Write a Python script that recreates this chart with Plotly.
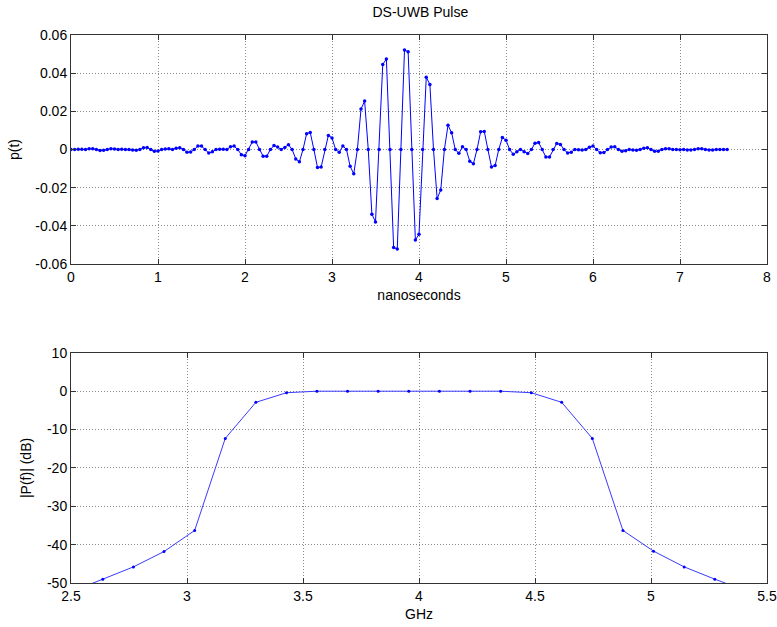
import numpy as np
import plotly.graph_objects as go
from plotly.subplots import make_subplots

# sample times of the pulse: 24 samples per nanosecond
t_ns = np.arange(182) / 24.0

# pulse amplitude p(t)
p_t = [
    0,
    0, 0.0001, 0.0001, 0, 0.0004, 0.0004, 0, -0.0005, -0.0004, 0,
    0.0004, 0.0003, 0, 0.0001, 0, 0, -0.0003, -0.0004, 0, 0.0009,
    0.0010, 0, -0.0009, -0.0008, 0, 0.0003, 0.0004, 0, 0.0007, 0.0009,
    0, -0.0014, -0.0013, 0, 0.0018, 0.0018, 0, -0.0018, -0.0012, 0,
    0.0002, 0.0001, 0, 0.0014, 0.0018, 0, -0.0027, -0.0032, 0, 0.0039,
    0.0039, 0, -0.0035, -0.0035, 0, 0.0021, 0.0013, 0, 0.0011, 0.0025,
    0, -0.0049, -0.0064, 0, 0.0083, 0.0089, 0, -0.0094, -0.0092, 0,
    0.0074, 0.0061, 0, -0.0014, 0.0019, 0, -0.0088, -0.0127, 0, 0.0212,
    0.0254, 0, -0.0339, -0.0379, 0, 0.0446, 0.0474, 0, -0.0513, -0.0521,
    0, 0.0521, 0.0512, 0, -0.0474, -0.0444, 0, 0.0379, 0.0341, 0,
    -0.0257, -0.0212, 0, 0.0127, 0.0088, 0, -0.0020, 0.0014, 0, -0.0061,
    -0.0075, 0, 0.0093, 0.0095, 0, -0.0091, -0.0084, 0, 0.0063, 0.0049,
    0, -0.0025, -0.0012, 0, -0.0011, -0.0021, 0, 0.0033, 0.0037, 0,
    -0.0039, -0.0039, 0, 0.0032, 0.0027, 0, -0.0018, -0.0014, 0, -0.0001,
    -0.0003, 0, 0.0012, 0.0018, 0, -0.0017, -0.0016, 0, 0.0013, 0.0014,
    0, -0.0009, -0.0006, 0, -0.0002, -0.0004, 0, 0.0007, 0.0009, 0,
    -0.0009, -0.0009, 0, 0.0004, 0.0004, 0, 0, -0.0001, 0, -0.0003,
    -0.0003, 0, 0.0004, 0.0004, 0, -0.0003, -0.0003, 0, 0, 0,
    0,
]

# spectrum magnitude
freq_ghz = [2.505, 2.637, 2.769, 2.901, 3.033, 3.165, 3.297, 3.429, 3.560,
            3.692, 3.824, 3.956, 4.088, 4.220, 4.352, 4.484, 4.615, 4.747,
            4.879, 5.011, 5.143, 5.275, 5.407]
mag_db = [-52.2, -49.0, -45.8, -41.8, -36.3, -12.3, -2.9, -0.4, 0, 0, 0, 0,
          0, 0, 0, -0.4, -2.9, -12.3, -36.3, -41.7, -45.8, -49.0, -52.0]

# tick labels
top_xticks = [0, 1, 2, 3, 4, 5, 6, 7, 8]
top_yticks = [0.06, 0.04, 0.02, 0, -0.02, -0.04, -0.06]
top_ylabels = ["0.06", "0.04", "0.02", "0", "-0.02", "-0.04", "-0.06"]
bot_xticks = [2.5, 3, 3.5, 4, 4.5, 5, 5.5]
bot_xlabels = ["2.5", "3", "3.5", "4", "4.5", "5", "5.5"]
bot_yticks = [10, 0, -10, -20, -30, -40, -50]
bot_ylabels = ["10", "0", "-10", "-20", "-30", "-40", "-50"]

FONT = dict(family="Liberation Sans", size=14, color="black")

fig = make_subplots(rows=2, cols=1)

fig.add_trace(
    go.Scatter(x=t_ns, y=p_t, mode="lines+markers",
               line=dict(color="blue", width=1),
               marker=dict(color="blue", size=3.5)),
    row=1, col=1
)
fig.add_trace(
    go.Scatter(x=freq_ghz, y=mag_db, mode="lines+markers",
               line=dict(color="#3a3aff", width=1),
               marker=dict(color="blue", size=3)),
    row=2, col=1
)

# matlab-like axes: boxed, inside ticks, dotted grid
axis_style = dict(
    showline=True, linecolor="#333333", linewidth=1, mirror="ticks",
    ticks="inside", ticklen=5, tickcolor="#333333",
    showgrid=True, gridcolor="#8a8a8a", griddash="1px,2px", gridwidth=1,
    zeroline=False, automargin=False,
    tickfont=FONT, title_font=FONT,
)
fig.update_xaxes(axis_style)
fig.update_yaxes(axis_style)

fig.update_layout(
    width=777, height=627,
    margin=dict(l=71, r=10, t=35, b=44),
    plot_bgcolor="white", paper_bgcolor="white",
    showlegend=False,
    font=FONT,
    title=dict(text="DS-UWB Pulse", x=0.541, xanchor="center",
               y=0.981, yanchor="middle", font=FONT),
    xaxis=dict(domain=[0, 1], range=[0, 8], tickvals=top_xticks,
               title=dict(text="nanoseconds", standoff=6)),
    yaxis=dict(domain=[0.582, 1], range=[-0.06, 0.06], tickvals=top_yticks,
               ticktext=top_ylabels, title=dict(text="p(t)", standoff=12)),
    xaxis2=dict(domain=[0, 1], range=[2.5, 5.5], tickvals=bot_xticks,
                ticktext=bot_xlabels, title=dict(text="GHz", standoff=6)),
    yaxis2=dict(domain=[0, 0.42], range=[-50, 10], tickvals=bot_yticks,
                ticktext=bot_ylabels, title=dict(text="|P(f)| (dB)", standoff=12)),
)

# drop the default page margin so the figure sits at the window's corner
fig.write_html("out.html", config={"displayModeBar": False},
               post_script="document.body.style.margin='0px';")
